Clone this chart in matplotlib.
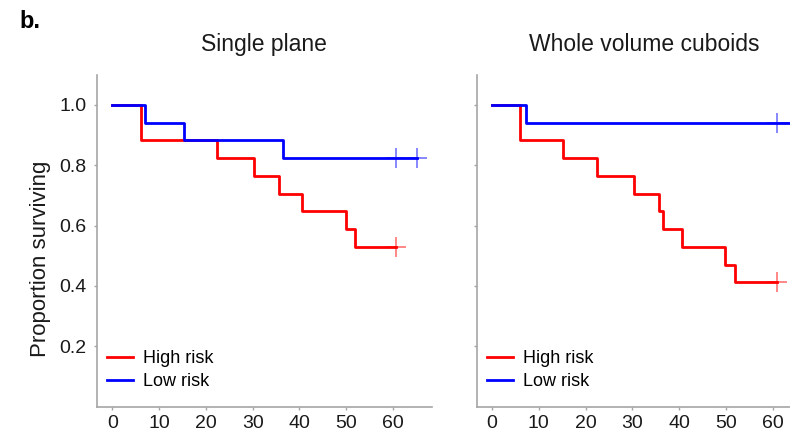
import matplotlib
matplotlib.use("Agg")
import matplotlib.pyplot as plt

plt.rcParams['font.family'] = ['Liberation Sans', 'DejaVu Sans']

# Kaplan-Meier step data (time in months, proportion surviving)
single_high_t = [0, 6.1, 22.4, 30.3, 35.7, 40.6, 49.9, 51.9, 60.7]
single_high_s = [1.0, 0.882, 0.824, 0.765, 0.706, 0.647, 0.588, 0.529, 0.529]
single_high_cens = [60.7]

single_low_t = [0, 7.1, 15.4, 36.5, 65.0]
single_low_s = [1.0, 0.941, 0.882, 0.824, 0.824]
single_low_cens = [60.7, 65.0]

cuboid_high_t = [0, 6.1, 15.2, 22.4, 30.4, 35.7, 36.5, 40.6, 49.7, 51.9, 60.8]
cuboid_high_s = [1.0, 0.882, 0.824, 0.765, 0.706, 0.647, 0.588, 0.529, 0.471, 0.412, 0.412]
cuboid_high_cens = [60.8]

cuboid_low_t = [0, 7.2, 65.0]
cuboid_low_s = [1.0, 0.941, 0.941]
cuboid_low_cens = [60.8, 65.0]

panel_titles = ["Single plane", "Whole volume cuboids"]
group_labels = ["High risk", "Low risk"]
x_ticks = [0, 10, 20, 30, 40, 50, 60]
y_ticks = [0.2, 0.4, 0.6, 0.8, 1.0]

RED = "#ff0000"
BLUE = "#0000ff"
SPINE = "#a6a6a6"
TEXT = "#1a1a1a"

fig = plt.figure(figsize=(7.9, 4.37), dpi=100)
ax_w = 0.4237
ax_b = 0.0693
ax_h = 0.760
ax1 = fig.add_axes([0.1228, ax_b, ax_w, ax_h])
ax2 = fig.add_axes([0.6034, ax_b, ax_w, ax_h])


def surv_at(t_list, s_list, t):
    val = s_list[0]
    for ti, si in zip(t_list, s_list):
        if ti <= t:
            val = si
    return val


def km(ax, t, s, cens, color, label):
    ax.step(t, s, where="post", color=color, lw=2.0, label=label)
    ax.plot(cens, [surv_at(t, s, c) for c in cens], linestyle="none",
            marker="+", markersize=14, mew=1.2, color=color, alpha=0.55)


panels = [
    (ax1, single_high_t, single_high_s, single_high_cens,
     single_low_t, single_low_s, single_low_cens),
    (ax2, cuboid_high_t, cuboid_high_s, cuboid_high_cens,
     cuboid_low_t, cuboid_low_s, cuboid_low_cens),
]

for i, (ax, ht, hs, hc, lt, ls, lc) in enumerate(panels):
    km(ax, ht, hs, hc, RED, group_labels[0])
    km(ax, lt, ls, lc, BLUE, group_labels[1])
    ax.set_xlim(-3.25, 68.25)
    ax.set_ylim(0.0, 1.1)
    ax.set_xticks(x_ticks)
    ax.set_yticks(y_ticks)
    ax.set_yticklabels(["%.1f" % v for v in y_ticks] if i == 0 else [])
    for side in ("top", "right"):
        ax.spines[side].set_visible(False)
    for side in ("left", "bottom"):
        ax.spines[side].set_color(SPINE)
        ax.spines[side].set_linewidth(1.2)
    ax.tick_params(axis="both", colors=SPINE, length=2.5, width=1,
                   labelcolor=TEXT, labelsize=14)
    ax.tick_params(axis="x", pad=3.5)
    ax.tick_params(axis="y", pad=5)
    ax.set_title(panel_titles[i], fontsize=16.5, pad=17, color=TEXT)
    ax.legend(loc="lower left", bbox_to_anchor=(0.0, 0.02), frameon=False,
              fontsize=13, handlelength=1.45, handletextpad=0.55,
              borderaxespad=0.25, labelspacing=0.33, borderpad=0.3)

ax1.set_ylabel("Proportion surviving", fontsize=16, color=TEXT)
ax1.yaxis.set_label_coords(-0.137, 0.446)

fig.text(0.025, 0.95, "b.", fontsize=17, fontweight="bold", va="center")

fig.savefig("out.png", dpi=100)
